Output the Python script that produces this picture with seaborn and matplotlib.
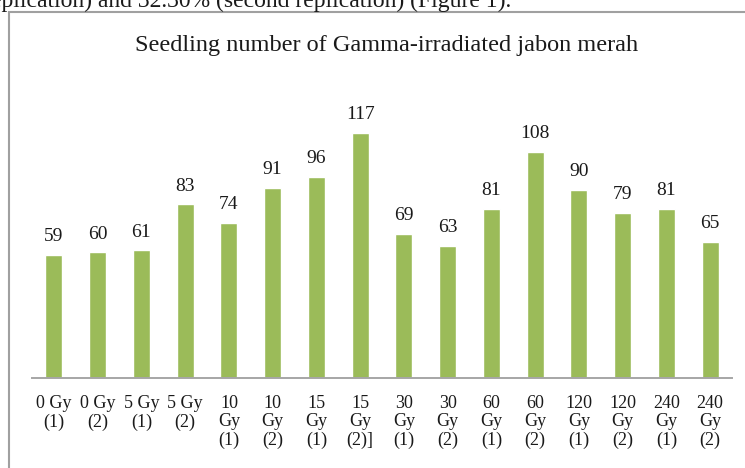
import pandas as pd
import seaborn as sns
from matplotlib import pyplot as plt
from matplotlib.patches import Rectangle

doses = ["0 Gy\n(1)", "0 Gy\n(2)", "5 Gy\n(1)", "5 Gy\n(2)",
         "10\nGy\n(1)", "10\nGy\n(2)", "15\nGy\n(1)", "15\nGy\n(2)]",
         "30\nGy\n(1)", "30\nGy\n(2)", "60\nGy\n(1)", "60\nGy\n(2)",
         "120\nGy\n(1)", "120\nGy\n(2)", "240\nGy\n(1)", "240\nGy\n(2)"]
seedlings = [59, 60, 61, 83, 74, 91, 96, 117, 69, 63, 81, 108, 90, 79, 81, 65]

sns.set_theme(style="white")
plt.rcParams['font.family'] = ['Liberation Serif', 'DejaVu Serif']

df = pd.DataFrame({"dose": doses, "seedlings": seedlings})

fig = plt.figure(figsize=(7.45, 4.68), dpi=100)
ax = fig.add_axes([0.043, 0.1923, 0.9396, 0.626])

sns.barplot(data=df, x="dose", y="seedlings", color="#9BBB59",
            saturation=1, width=0.39, ax=ax)

for c in ax.containers:
    ax.bar_label(c, padding=7, fontsize=14, color="#1a1a1a")

ax.set_xlim(-0.5, 15.5)
ax.set_ylim(0, 140)
ax.set_xlabel("")
ax.set_ylabel("")
ax.set_yticks([])
ax.tick_params(axis="x", length=0, pad=12, labelsize=13, colors="#1a1a1a")
for lab in ax.get_xticklabels():
    lab.set_linespacing(1.12)
    lab.set_verticalalignment("top")
for s in ["top", "right", "left"]:
    ax.spines[s].set_visible(False)
ax.spines["bottom"].set_color("#a6a6a6")
ax.spines["bottom"].set_linewidth(1.4)

fig.text(0.519, 0.903, "Seedling number of Gamma-irradiated jabon merah",
         ha="center", va="center", fontsize=17.5, color="#1a1a1a")

# surrounding text of the page and the chart frame
fig.text(-0.012, 0.998, "eplication) and 32.30% (second replication) (Figure 1).",
         ha="left", va="center", fontsize=17, color="#1a1a1a")
fig.patches.append(Rectangle((0.0115, -0.05), 1.2, 1.025,
                             transform=fig.transFigure, fill=False,
                             edgecolor="#a0a0a0", linewidth=1.5))

fig.savefig("out.png", dpi=100)
